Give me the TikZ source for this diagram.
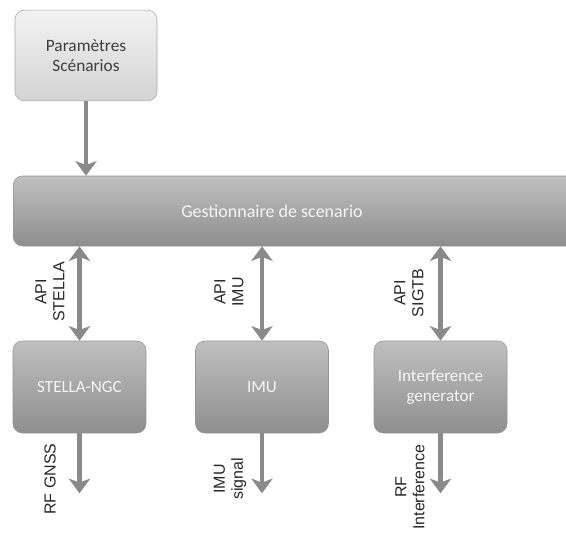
\documentclass[tikz,border=0pt]{standalone}
\usepackage{fontspec}
\setmainfont{Carlito}
\newfontfamily\labelfont{Liberation Sans}
\usetikzlibrary{arrows.meta,positioning,calc}
\definecolor{arrowgray}{HTML}{8A8A8A}
\tikzstyle{lightbox} = [draw=black!35, rounded corners=7pt, top color=black!5, bottom color=black!17, text=black!75, align=center, font=\fontsize{13}{15}\selectfont]
\tikzstyle{darkbox} = [draw=black!42, rounded corners=7pt, top color=black!25, bottom color=black!44, text=black!4, align=center, font=\fontsize{12.8}{15}\selectfont]
\tikzstyle{Arrow} = [-{Stealth[width=16pt,length=11pt,inset=3pt]}, line width=3.6pt, draw=arrowgray, color=arrowgray]
\tikzstyle{DArrow} = [{Stealth[width=16pt,length=11pt,inset=3pt]}-{Stealth[width=16pt,length=11pt,inset=3pt]}, line width=3.6pt, draw=arrowgray, color=arrowgray]
\tikzstyle{api} = [rotate=90, align=center, text=black!85, font=\labelfont\fontsize{12}{13.5}\selectfont]

\begin{document}
\begin{tikzpicture}[x=0.75pt,y=-0.75pt]
            \useasboundingbox (0,0) rectangle (566,535);
            %%%%% Scenario %%%%%
            \node (P) [lightbox, minimum width=106.5pt, minimum height=68pt] at (86,55.5) {Paramètres\\Scénarios};
            \node (G) [darkbox, minimum width=425pt, minimum height=52.5pt, anchor=west] at (13,211) {};
            \node (T) [text=black!4, font=\fontsize{13.5}{15}\selectfont] at (272,211) {Gestionnaire de scenario};
            \draw [Arrow] (P.south) -- (P.south |- G.north);
            %%%%% Modules %%%%%
            \node (A) [darkbox, minimum width=99.75pt, minimum height=69pt] at (79.5,387) {STELLA-NGC};
            \node (B) [darkbox, minimum width=99.75pt, minimum height=69pt] at (262,387) {IMU};
            \node (C) [darkbox, minimum width=99.75pt, minimum height=69pt] at (440.5,387) {Interference\\generator};
            \draw [DArrow] (A.north |- G.south) -- (A.north);
            \draw [DArrow] (B.north |- G.south) -- (B.north);
            \draw [DArrow] (C.north |- G.south) -- (C.north);
            %%%%% Outputs %%%%%
            \coordinate (A1) at ($(A.south)+(0,60)$);
            \coordinate (B1) at ($(B.south)+(0,60)$);
            \coordinate (C1) at ($(C.south)+(0,60)$);
            \draw [Arrow] (A.south) -- (A1);
            \draw [Arrow] (B.south) -- (B1);
            \draw [Arrow] (C.south) -- (C1);
            %%%%% Labels %%%%%
            \node at (50,292) [api] {API\\STELLA};
            \node at (229,292) [api] {API\\IMU};
            \node at (409,293) [api] {API\\SIGTB};
            \node at (50,479) [api] {RF GNSS};
            \node at (230,479) [api] {IMU\\signal};
            \node at (410,487) [api] {RF\\Interference};
\end{tikzpicture}
\end{document}
